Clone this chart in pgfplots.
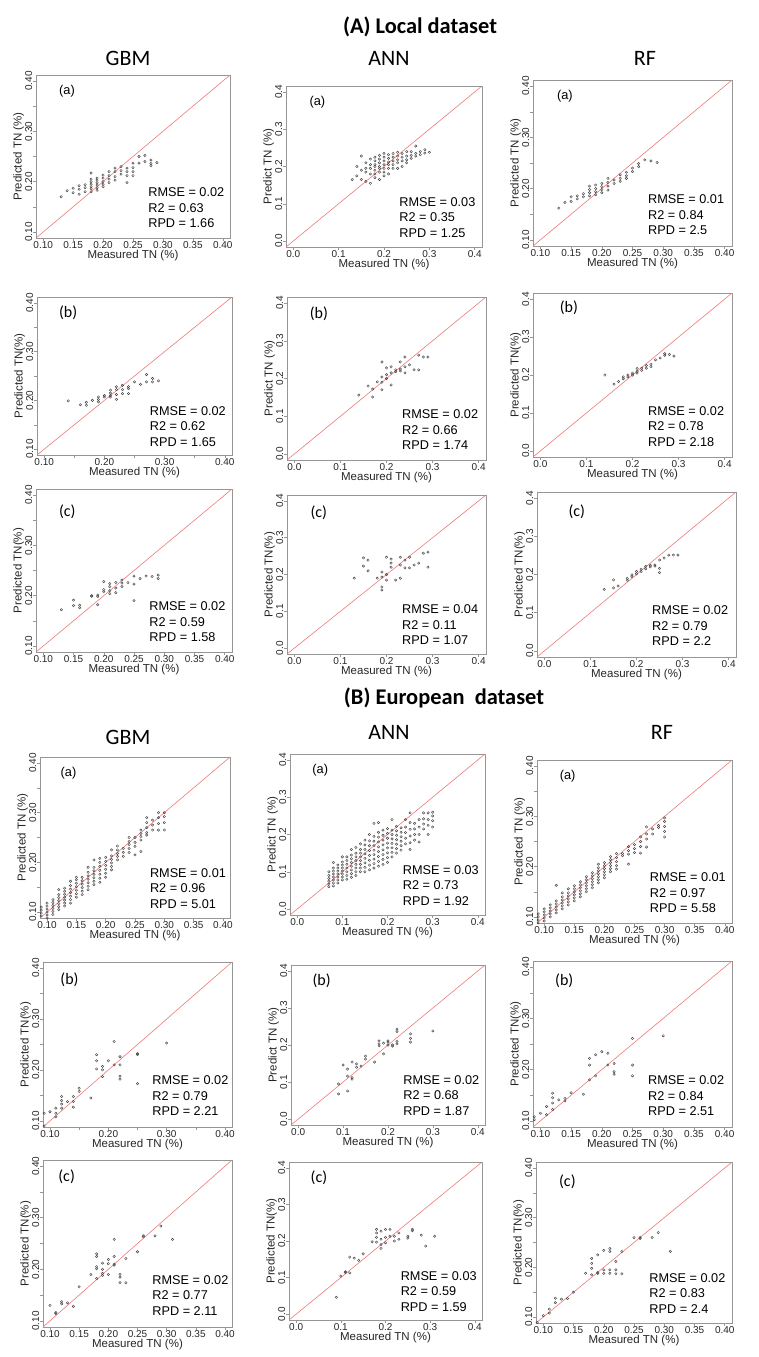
\documentclass[border=0pt]{standalone}
\usepackage{pgfplots}
\pgfplotsset{compat=1.18}
\usepackage{fontspec}
\setmainfont{Liberation Sans}
\newfontfamily\calib{Carlito}
\definecolor{axgray}{RGB}{150,150,150}
\definecolor{oneone}{RGB}{238,120,120}
\newcommand\tickfont{\fontsize{10}{12}\selectfont}
\newcommand\labfont{\fontsize{11.5}{13}\selectfont}
\newcommand\statfont{\fontsize{12.7}{15.5}\selectfont}
\newcommand\tagafont{\fontsize{12.8}{14}\selectfont}
\newcommand\tagcfont{\calib\fontsize{16}{18}\selectfont}
\newcommand\modfont{\calib\fontsize{22}{24}\selectfont}
\newcommand\secfont{\calib\bfseries\fontsize{22.4}{25}\selectfont}
\tikzset{
  statn/.style={anchor=north west, inner sep=0pt, align=left, font=\statfont},
  taga/.style={inner sep=0pt, font=\tagafont},
  tagc/.style={inner sep=0pt, font=\tagcfont},
}
\pgfplotsset{
  P/.style={scale only axis, anchor=south west,
    axis line style={draw=axgray, line width=0.6pt},
    every tick/.style={draw=axgray, line width=0.5pt},
    tick align=outside, tick pos=left, major tick length=3pt,
    ticklabel style={font=\tickfont, inner sep=0.5pt, text=black!85},
    yticklabel style={rotate=90, anchor=south},
    xticklabel style={anchor=north},
    label style={font=\labfont, inner sep=0.5pt, text=black!85},
    xlabel={Measured TN (\%)},
  },
  R1/.style={xmin=0.088, xmax=0.412, ymin=0.088, ymax=0.412,
    xtick={0.10,0.15,0.20,0.25,0.30,0.35,0.40},
    xticklabels={0.10,0.15,0.20,0.25,0.30,0.35,0.40},
    ytick={0.10,0.15,0.20,0.25,0.30,0.35,0.40},
    yticklabels={0.10,,0.20,,0.30,,0.40}},
  R1b/.style={R1, xticklabels={0.10,,0.20,,0.30,,0.40}},
  R0/.style={xmin=-0.016, xmax=0.416, ymin=-0.016, ymax=0.416,
    xtick={0,0.1,0.2,0.3,0.4}, xticklabels={0.0,0.1,0.2,0.3,0.4},
    ytick={0,0.1,0.2,0.3,0.4}, yticklabels={0.0,0.1,0.2,0.3,0.4}},
  pts/.style={only marks, mark=o, mark size=1.2pt,
    mark options={draw=black!72, line width=0.45pt}},
}
\newcommand\stats[3]{\node[statn] at (rel axis cs:0.578,0.31) {RMSE = #1\\R2 = #2\\RPD = #3};}
\newcommand\diag{\addplot[oneone, line width=0.6pt] coordinates {(-0.1,-0.1) (0.5,0.5)};}

\begin{document}
\begin{tikzpicture}
\path[use as bounding box] (0,0) rectangle (759pt,-1357pt);

% ---- titles ----
\node[font=\secfont] at (420pt,-27pt) {(A) Local dataset};
\node[font=\secfont] at (444pt,-698pt) {(B) European\ \ dataset};
\node[font=\modfont] at (128pt,-58pt) {GBM};
\node[font=\modfont] at (389pt,-58pt) {ANN};
\node[font=\modfont] at (645pt,-58pt) {RF};
\node[font=\modfont] at (128pt,-737pt) {GBM};
\node[font=\modfont] at (389pt,-732pt) {ANN};
\node[font=\modfont] at (662pt,-732pt) {RF};

% ================= (A) Local dataset =================
\begin{axis}[P,R1,at={(36pt,-238pt)},width=194pt,height=163pt,ylabel={Predicted TN (\%)}]
\diag
\addplot[pts] coordinates {(0.13,0.170)(0.14,0.182)(0.15,0.187)(0.15,0.178)(0.16,0.192)(0.16,0.185)(0.16,0.175)(0.17,0.194)(0.17,0.188)(0.17,0.180)(0.18,0.217)(0.18,0.205)(0.18,0.200)(0.18,0.195)(0.18,0.190)(0.18,0.186)(0.18,0.180)(0.19,0.207)(0.19,0.203)(0.19,0.198)(0.19,0.193)(0.19,0.188)(0.19,0.183)(0.20,0.213)(0.20,0.207)(0.20,0.200)(0.20,0.195)(0.20,0.190)(0.21,0.220)(0.21,0.212)(0.21,0.205)(0.21,0.198)(0.22,0.227)(0.22,0.220)(0.22,0.210)(0.22,0.203)(0.23,0.230)(0.23,0.222)(0.23,0.215)(0.24,0.227)(0.24,0.220)(0.24,0.212)(0.24,0.198)(0.25,0.237)(0.25,0.228)(0.25,0.220)(0.25,0.212)(0.26,0.250)(0.26,0.237)(0.27,0.252)(0.27,0.240)(0.28,0.243)(0.28,0.236)(0.28,0.232)(0.29,0.238)};
\node[taga] at (rel axis cs:0.16,0.9) {(a)};
\stats{0.02}{0.63}{1.66}
\end{axis}

\begin{axis}[P,R0,at={(286pt,-247pt)},width=196pt,height=161pt,ylabel={Predict TN (\%)}]
\diag
\addplot[pts] coordinates {(0.13,0.165)(0.14,0.200)(0.14,0.175)(0.15,0.228)(0.15,0.190)(0.15,0.165)(0.16,0.210)(0.16,0.195)(0.16,0.185)(0.16,0.160)(0.17,0.220)(0.17,0.205)(0.17,0.195)(0.17,0.180)(0.17,0.155)(0.18,0.225)(0.18,0.215)(0.18,0.205)(0.18,0.200)(0.18,0.190)(0.18,0.180)(0.18,0.170)(0.19,0.230)(0.19,0.220)(0.19,0.210)(0.19,0.200)(0.19,0.195)(0.19,0.185)(0.19,0.165)(0.20,0.235)(0.20,0.225)(0.20,0.215)(0.20,0.205)(0.20,0.195)(0.20,0.185)(0.20,0.175)(0.21,0.232)(0.21,0.222)(0.21,0.212)(0.21,0.205)(0.21,0.195)(0.21,0.180)(0.22,0.235)(0.22,0.225)(0.22,0.215)(0.22,0.205)(0.22,0.195)(0.23,0.238)(0.23,0.228)(0.23,0.218)(0.23,0.210)(0.23,0.195)(0.24,0.235)(0.24,0.225)(0.24,0.215)(0.24,0.200)(0.25,0.240)(0.25,0.228)(0.25,0.218)(0.25,0.210)(0.26,0.240)(0.26,0.230)(0.26,0.222)(0.27,0.255)(0.27,0.235)(0.27,0.228)(0.28,0.240)(0.28,0.232)(0.29,0.245)(0.29,0.236)(0.30,0.238)};
\node[taga] at (rel axis cs:0.16,0.9) {(a)};
\stats{0.03}{0.35}{1.25}
\end{axis}

\begin{axis}[P,R1,at={(533pt,-246pt)},width=199pt,height=166pt,ylabel={Predicted TN (\%)}]
\diag
\addplot[pts] coordinates {(0.13,0.162)(0.14,0.173)(0.15,0.184)(0.15,0.175)(0.16,0.186)(0.16,0.180)(0.17,0.190)(0.17,0.184)(0.18,0.205)(0.18,0.198)(0.18,0.192)(0.18,0.186)(0.19,0.207)(0.19,0.200)(0.19,0.194)(0.19,0.188)(0.20,0.210)(0.20,0.204)(0.20,0.198)(0.20,0.192)(0.21,0.220)(0.21,0.212)(0.21,0.205)(0.21,0.197)(0.22,0.217)(0.22,0.210)(0.23,0.227)(0.23,0.220)(0.23,0.214)(0.24,0.232)(0.24,0.225)(0.24,0.220)(0.25,0.240)(0.25,0.233)(0.26,0.249)(0.26,0.243)(0.27,0.256)(0.28,0.254)(0.29,0.251)};
\node[taga] at (rel axis cs:0.16,0.9) {(a)};
\stats{0.01}{0.84}{2.5}
\end{axis}

\begin{axis}[P,R1b,at={(37pt,-455pt)},width=195pt,height=158pt,ylabel={Predicted TN(\%)}]
\diag
\addplot[pts] coordinates {(0.14,0.199)(0.16,0.191)(0.17,0.196)(0.17,0.190)(0.18,0.200)(0.19,0.207)(0.19,0.202)(0.19,0.197)(0.20,0.210)(0.20,0.207)(0.21,0.221)(0.21,0.215)(0.21,0.210)(0.21,0.207)(0.22,0.228)(0.22,0.222)(0.22,0.212)(0.22,0.202)(0.23,0.231)(0.23,0.222)(0.23,0.214)(0.24,0.228)(0.24,0.224)(0.24,0.214)(0.25,0.238)(0.26,0.233)(0.27,0.253)(0.27,0.238)(0.28,0.245)(0.28,0.238)(0.29,0.240)};
\node[tagc] at (rel axis cs:0.16,0.9) {(b)};
\stats{0.02}{0.62}{1.65}
\end{axis}

\begin{axis}[P,R0,at={(287pt,-460pt)},width=199pt,height=163pt,ylabel={Predict TN (\%)}]
\diag
\addplot[pts] coordinates {(0.14,0.156)(0.16,0.180)(0.17,0.172)(0.17,0.151)(0.18,0.191)(0.19,0.244)(0.19,0.204)(0.19,0.190)(0.19,0.170)(0.20,0.228)(0.20,0.210)(0.20,0.200)(0.21,0.231)(0.21,0.215)(0.21,0.183)(0.22,0.223)(0.22,0.218)(0.23,0.244)(0.23,0.225)(0.23,0.220)(0.24,0.257)(0.24,0.231)(0.24,0.215)(0.25,0.236)(0.26,0.223)(0.27,0.262)(0.27,0.223)(0.28,0.257)(0.29,0.257)};
\node[tagc] at (rel axis cs:0.16,0.9) {(b)};
\stats{0.02}{0.66}{1.74}
\end{axis}

\begin{axis}[P,R0,at={(533pt,-457pt)},width=199pt,height=164pt,ylabel={Predicted TN(\%)}]
\diag
\addplot[pts] coordinates {(0.14,0.200)(0.16,0.176)(0.17,0.183)(0.18,0.195)(0.18,0.190)(0.19,0.200)(0.19,0.195)(0.20,0.205)(0.20,0.200)(0.21,0.217)(0.21,0.210)(0.21,0.205)(0.22,0.218)(0.22,0.212)(0.23,0.225)(0.23,0.218)(0.24,0.228)(0.24,0.222)(0.25,0.240)(0.26,0.245)(0.27,0.256)(0.27,0.252)(0.28,0.254)(0.29,0.250)};
\node[tagc] at (rel axis cs:0.18,0.91) {(b)};
\stats{0.02}{0.78}{2.18}
\end{axis}

\begin{axis}[P,R1,at={(36pt,-652pt)},width=196pt,height=163pt,ylabel={Predicted TN(\%)}]
\diag
\addplot[pts] coordinates {(0.13,0.172)(0.15,0.191)(0.15,0.180)(0.16,0.181)(0.16,0.176)(0.18,0.200)(0.18,0.199)(0.19,0.201)(0.19,0.198)(0.19,0.182)(0.20,0.228)(0.20,0.212)(0.20,0.208)(0.21,0.224)(0.21,0.218)(0.21,0.210)(0.21,0.204)(0.22,0.226)(0.22,0.215)(0.22,0.206)(0.23,0.231)(0.23,0.225)(0.23,0.218)(0.24,0.226)(0.25,0.239)(0.25,0.223)(0.25,0.190)(0.26,0.234)(0.27,0.239)(0.28,0.238)(0.29,0.241)(0.29,0.234)};
\node[tagc] at (rel axis cs:0.16,0.86) {(c)};
\stats{0.02}{0.59}{1.58}
\end{axis}

\begin{axis}[P,R0,at={(287pt,-654pt)},width=199pt,height=159pt,ylabel={Predicted TN(\%)}]
\diag
\addplot[pts] coordinates {(0.13,0.190)(0.15,0.245)(0.15,0.223)(0.16,0.239)(0.16,0.210)(0.18,0.190)(0.19,0.207)(0.19,0.193)(0.19,0.166)(0.19,0.158)(0.20,0.247)(0.20,0.200)(0.20,0.185)(0.21,0.242)(0.21,0.231)(0.21,0.220)(0.22,0.185)(0.23,0.247)(0.23,0.226)(0.23,0.190)(0.24,0.239)(0.24,0.218)(0.25,0.247)(0.25,0.218)(0.26,0.226)(0.27,0.231)(0.28,0.258)(0.29,0.261)(0.29,0.220)};
\node[tagc] at (rel axis cs:0.16,0.89) {(c)};
\stats{0.04}{0.11}{1.07}
\end{axis}

\begin{axis}[P,R0,at={(537pt,-657pt)},width=199pt,height=165pt,ylabel={Predicted TN(\%)}]
\diag
\addplot[pts] coordinates {(0.13,0.161)(0.15,0.186)(0.15,0.165)(0.16,0.170)(0.18,0.190)(0.18,0.185)(0.19,0.199)(0.19,0.194)(0.20,0.208)(0.20,0.202)(0.21,0.214)(0.21,0.208)(0.22,0.221)(0.22,0.215)(0.23,0.224)(0.23,0.220)(0.24,0.225)(0.24,0.222)(0.25,0.238)(0.25,0.216)(0.25,0.205)(0.26,0.243)(0.27,0.251)(0.28,0.251)(0.29,0.251)};
\node[tagc] at (rel axis cs:0.2,0.88) {(c)};
\stats{0.02}{0.79}{2.2}
\end{axis}

% ================= (B) European dataset =================
\begin{axis}[P,R1,at={(40pt,-918pt)},width=190pt,height=161pt,ylabel={Predicted TN (\%)}]
\diag
\addplot[pts] coordinates {
(0.09,0.085)(0.09,0.092)(0.09,0.098)(0.09,0.104)(0.09,0.110)
(0.10,0.088)(0.10,0.094)(0.10,0.100)(0.10,0.106)(0.10,0.112)(0.10,0.118)
(0.11,0.095)(0.11,0.101)(0.11,0.107)(0.11,0.113)(0.11,0.119)(0.11,0.125)
(0.12,0.105)(0.12,0.111)(0.12,0.117)(0.12,0.123)(0.12,0.129)(0.12,0.135)(0.12,0.145)
(0.13,0.112)(0.13,0.118)(0.13,0.124)(0.13,0.130)(0.13,0.136)(0.13,0.142)(0.13,0.148)
(0.14,0.118)(0.14,0.125)(0.14,0.132)(0.14,0.139)(0.14,0.146)(0.14,0.153)(0.14,0.162)
(0.15,0.130)(0.15,0.137)(0.15,0.144)(0.15,0.151)(0.15,0.158)(0.15,0.165)(0.15,0.170)
(0.16,0.135)(0.16,0.142)(0.16,0.149)(0.16,0.156)(0.16,0.163)(0.16,0.170)
(0.17,0.145)(0.17,0.152)(0.17,0.159)(0.17,0.166)(0.17,0.173)(0.17,0.180)(0.17,0.190)
(0.18,0.155)(0.18,0.162)(0.18,0.169)(0.18,0.176)(0.18,0.183)(0.18,0.190)(0.18,0.205)
(0.19,0.160)(0.19,0.168)(0.19,0.176)(0.19,0.184)(0.19,0.192)(0.19,0.200)(0.19,0.208)
(0.20,0.170)(0.20,0.178)(0.20,0.186)(0.20,0.194)(0.20,0.202)(0.20,0.210)
(0.21,0.185)(0.21,0.192)(0.21,0.199)(0.21,0.206)(0.21,0.213)(0.21,0.225)
(0.22,0.205)(0.22,0.212)(0.22,0.218)(0.22,0.225)(0.22,0.233)
(0.23,0.212)(0.23,0.220)(0.23,0.228)
(0.24,0.220)(0.24,0.228)(0.24,0.236)(0.24,0.242)(0.24,0.250)
(0.25,0.215)(0.25,0.232)(0.25,0.240)(0.25,0.250)
(0.26,0.222)(0.26,0.245)(0.26,0.252)(0.26,0.258)(0.26,0.265)
(0.27,0.255)(0.27,0.260)(0.27,0.270)(0.27,0.280)(0.27,0.290)
(0.28,0.265)(0.28,0.275)(0.28,0.285)
(0.29,0.265)(0.29,0.278)(0.29,0.290)(0.29,0.300)
(0.30,0.265)(0.30,0.280)(0.30,0.292)(0.30,0.300)};
\node[taga] at (rel axis cs:0.15,0.9) {(a)};
\stats{0.01}{0.96}{5.01}
\end{axis}

\begin{axis}[P,R0,at={(290pt,-915pt)},width=195pt,height=161pt,ylabel={Predict TN (\%)}]
\diag
\addplot[pts] coordinates {
(0.07,0.060)(0.07,0.067)(0.07,0.075)(0.07,0.082)(0.07,0.090)(0.07,0.100)
(0.08,0.062)(0.08,0.070)(0.08,0.078)(0.08,0.086)(0.08,0.094)(0.08,0.102)(0.08,0.110)(0.08,0.125)
(0.09,0.070)(0.09,0.078)(0.09,0.086)(0.09,0.094)(0.09,0.102)(0.09,0.110)(0.09,0.118)
(0.10,0.078)(0.10,0.086)(0.10,0.094)(0.10,0.102)(0.10,0.110)(0.10,0.118)(0.10,0.126)(0.10,0.140)
(0.11,0.080)(0.11,0.090)(0.11,0.100)(0.11,0.110)(0.11,0.120)(0.11,0.130)(0.11,0.140)
(0.12,0.085)(0.12,0.095)(0.12,0.105)(0.12,0.115)(0.12,0.125)(0.12,0.135)(0.12,0.145)(0.12,0.160)
(0.13,0.090)(0.13,0.100)(0.13,0.110)(0.13,0.120)(0.13,0.130)(0.13,0.140)(0.13,0.150)(0.13,0.165)
(0.14,0.100)(0.14,0.110)(0.14,0.120)(0.14,0.130)(0.14,0.140)(0.14,0.150)(0.14,0.160)(0.14,0.175)
(0.15,0.100)(0.15,0.112)(0.15,0.124)(0.15,0.136)(0.15,0.148)(0.15,0.160)(0.15,0.172)(0.15,0.185)
(0.16,0.105)(0.16,0.118)(0.16,0.131)(0.16,0.144)(0.16,0.157)(0.16,0.170)(0.16,0.183)(0.16,0.200)
(0.17,0.110)(0.17,0.122)(0.17,0.134)(0.17,0.146)(0.17,0.158)(0.17,0.170)(0.17,0.182)(0.17,0.195)(0.17,0.230)
(0.18,0.115)(0.18,0.128)(0.18,0.141)(0.18,0.154)(0.18,0.167)(0.18,0.180)(0.18,0.193)(0.18,0.206)(0.18,0.232)
(0.19,0.120)(0.19,0.133)(0.19,0.146)(0.19,0.159)(0.19,0.172)(0.19,0.185)(0.19,0.198)(0.19,0.212)
(0.20,0.125)(0.20,0.138)(0.20,0.151)(0.20,0.164)(0.20,0.177)(0.20,0.190)(0.20,0.203)(0.20,0.216)
(0.21,0.140)(0.21,0.152)(0.21,0.164)(0.21,0.176)(0.21,0.188)(0.21,0.200)(0.21,0.212)(0.21,0.240)
(0.22,0.150)(0.22,0.162)(0.22,0.174)(0.22,0.186)(0.22,0.198)(0.22,0.210)(0.22,0.222)
(0.23,0.158)(0.23,0.170)(0.23,0.182)(0.23,0.194)(0.23,0.206)(0.23,0.218)
(0.24,0.175)(0.24,0.190)(0.24,0.205)(0.24,0.220)(0.24,0.240)
(0.25,0.160)(0.25,0.178)(0.25,0.196)(0.25,0.214)(0.25,0.232)(0.25,0.258)
(0.26,0.185)(0.26,0.200)(0.26,0.215)(0.26,0.230)
(0.27,0.180)(0.27,0.200)(0.27,0.220)(0.27,0.240)
(0.28,0.215)(0.28,0.228)(0.28,0.242)(0.28,0.258)
(0.29,0.200)(0.29,0.225)(0.29,0.240)(0.29,0.258)
(0.30,0.220)(0.30,0.237)(0.30,0.250)(0.30,0.260)};
\node[taga] at (rel axis cs:0.155,0.9) {(a)};
\stats{0.03}{0.73}{1.92}
\end{axis}

\begin{axis}[P,R1,at={(537pt,-923pt)},width=195pt,height=163pt,ylabel={Predicted TN (\%)}]
\diag
\addplot[pts] coordinates {
(0.09,0.088)(0.09,0.094)(0.09,0.100)(0.09,0.106)
(0.10,0.092)(0.10,0.098)(0.10,0.104)(0.10,0.110)(0.10,0.116)
(0.11,0.100)(0.11,0.106)(0.11,0.112)(0.11,0.118)(0.11,0.124)
(0.12,0.108)(0.12,0.114)(0.12,0.120)(0.12,0.126)(0.12,0.132)(0.12,0.163)
(0.13,0.116)(0.13,0.122)(0.13,0.128)(0.13,0.134)(0.13,0.140)(0.13,0.148)
(0.14,0.124)(0.14,0.130)(0.14,0.136)(0.14,0.142)(0.14,0.148)(0.14,0.156)
(0.15,0.132)(0.15,0.138)(0.15,0.144)(0.15,0.150)(0.15,0.156)(0.15,0.162)
(0.16,0.140)(0.16,0.146)(0.16,0.152)(0.16,0.158)(0.16,0.164)(0.16,0.170)
(0.17,0.150)(0.17,0.156)(0.17,0.162)(0.17,0.168)(0.17,0.174)(0.17,0.180)
(0.18,0.158)(0.18,0.164)(0.18,0.170)(0.18,0.176)(0.18,0.182)(0.18,0.188)
(0.19,0.168)(0.19,0.174)(0.19,0.180)(0.19,0.186)(0.19,0.192)(0.19,0.198)(0.19,0.205)
(0.20,0.178)(0.20,0.184)(0.20,0.190)(0.20,0.196)(0.20,0.202)(0.20,0.208)
(0.21,0.190)(0.21,0.196)(0.21,0.202)(0.21,0.208)(0.21,0.214)(0.21,0.220)
(0.22,0.195)(0.22,0.202)(0.22,0.210)(0.22,0.218)(0.22,0.226)
(0.23,0.222)(0.23,0.226)
(0.24,0.205)(0.24,0.225)(0.24,0.232)(0.24,0.240)
(0.25,0.228)(0.25,0.236)(0.25,0.244)
(0.26,0.227)(0.26,0.240)(0.26,0.250)(0.26,0.259)
(0.27,0.239)(0.27,0.255)(0.27,0.265)(0.27,0.279)
(0.28,0.265)(0.28,0.275)
(0.29,0.278)(0.29,0.282)
(0.30,0.259)(0.30,0.270)(0.30,0.280)(0.30,0.290)(0.30,0.297)};
\node[taga] at (rel axis cs:0.157,0.9) {(a)};
\stats{0.01}{0.97}{5.58}
\end{axis}

\begin{axis}[P,R1b,at={(43pt,-1127pt)},width=189pt,height=165pt,ylabel={Predicted TN(\%)}]
\diag
\addplot[pts] coordinates {(0.09,0.115)(0.09,0.090)(0.10,0.118)(0.11,0.125)(0.11,0.115)(0.11,0.108)(0.12,0.148)(0.12,0.140)(0.12,0.133)(0.12,0.125)(0.13,0.138)(0.14,0.148)(0.14,0.138)(0.14,0.127)(0.15,0.164)(0.15,0.158)(0.17,0.145)(0.18,0.230)(0.18,0.218)(0.18,0.202)(0.19,0.207)(0.19,0.200)(0.19,0.187)(0.20,0.218)(0.21,0.256)(0.21,0.210)(0.22,0.226)(0.22,0.210)(0.22,0.188)(0.22,0.182)(0.25,0.232)(0.25,0.230)(0.25,0.173)(0.30,0.253)};
\node[tagc] at (rel axis cs:0.14,0.89) {(b)};
\stats{0.02}{0.79}{2.21}
\end{axis}

\begin{axis}[P,R0,at={(291pt,-1125pt)},width=194pt,height=160pt,ylabel={Predict TN (\%)}]
\diag
\addplot[pts] coordinates {(0.09,0.095)(0.09,0.068)(0.10,0.146)(0.11,0.135)(0.11,0.116)(0.11,0.076)(0.12,0.154)(0.12,0.108)(0.12,0.112)(0.13,0.149)(0.13,0.140)(0.14,0.143)(0.15,0.170)(0.15,0.162)(0.17,0.154)(0.18,0.203)(0.18,0.211)(0.18,0.198)(0.19,0.176)(0.19,0.205)(0.20,0.208)(0.20,0.211)(0.20,0.200)(0.21,0.197)(0.21,0.200)(0.22,0.243)(0.22,0.236)(0.22,0.210)(0.22,0.203)(0.25,0.230)(0.25,0.218)(0.25,0.208)(0.30,0.238)};
\node[tagc] at (rel axis cs:0.158,0.9) {(b)};
\stats{0.02}{0.68}{1.87}
\end{axis}

\begin{axis}[P,R1,at={(533pt,-1127pt)},width=199pt,height=166pt,ylabel={Predicted TN(\%)}]
\diag
\addplot[pts] coordinates {(0.09,0.108)(0.09,0.102)(0.10,0.115)(0.11,0.128)(0.11,0.112)(0.12,0.154)(0.12,0.145)(0.12,0.135)(0.12,0.122)(0.13,0.141)(0.14,0.144)(0.14,0.139)(0.15,0.155)(0.17,0.152)(0.18,0.222)(0.18,0.209)(0.18,0.180)(0.19,0.229)(0.19,0.188)(0.20,0.235)(0.21,0.232)(0.21,0.209)(0.22,0.212)(0.22,0.196)(0.22,0.191)(0.25,0.261)(0.25,0.209)(0.25,0.188)(0.30,0.266)};
\node[tagc] at (rel axis cs:0.157,0.88) {(b)};
\stats{0.02}{0.84}{2.51}
\end{axis}

\begin{axis}[P,R1,at={(43pt,-1327pt)},width=189pt,height=167pt,ylabel={Predicted TN(\%)}]
\diag
\addplot[pts] coordinates {(0.10,0.130)(0.11,0.116)(0.11,0.114)(0.12,0.137)(0.12,0.133)(0.13,0.135)(0.14,0.128)(0.15,0.166)(0.17,0.190)(0.18,0.230)(0.18,0.225)(0.18,0.205)(0.18,0.201)(0.18,0.182)(0.19,0.212)(0.19,0.200)(0.19,0.192)(0.19,0.188)(0.20,0.219)(0.20,0.211)(0.20,0.190)(0.21,0.258)(0.21,0.225)(0.21,0.210)(0.21,0.208)(0.22,0.190)(0.22,0.185)(0.22,0.174)(0.23,0.221)(0.23,0.174)(0.25,0.234)(0.26,0.265)(0.26,0.263)(0.28,0.265)(0.29,0.284)(0.31,0.258)};
\node[tagc] at (rel axis cs:0.125,0.9) {(c)};
\stats{0.02}{0.77}{2.11}
\end{axis}

\begin{axis}[P,R0,at={(289pt,-1320pt)},width=193pt,height=158pt,ylabel={Predicted TN(\%)}]
\diag
\addplot[pts] coordinates {(0.09,0.046)(0.10,0.104)(0.11,0.116)(0.11,0.114)(0.12,0.113)(0.12,0.156)(0.13,0.153)(0.14,0.147)(0.15,0.165)(0.17,0.198)(0.18,0.232)(0.18,0.222)(0.18,0.210)(0.18,0.197)(0.19,0.227)(0.19,0.205)(0.19,0.190)(0.19,0.180)(0.20,0.232)(0.20,0.210)(0.20,0.195)(0.21,0.213)(0.21,0.232)(0.22,0.213)(0.22,0.200)(0.23,0.222)(0.23,0.205)(0.25,0.213)(0.25,0.208)(0.26,0.232)(0.26,0.228)(0.28,0.216)(0.29,0.186)(0.31,0.213)};
\node[tagc] at (rel axis cs:0.155,0.9) {(c)};
\stats{0.03}{0.59}{1.59}
\end{axis}

\begin{axis}[P,R1,at={(536pt,-1323pt)},width=196pt,height=161pt,ylabel={Predicted TN(\%)}]
\diag
\addplot[pts] coordinates {(0.09,0.089)(0.10,0.103)(0.11,0.116)(0.11,0.108)(0.12,0.138)(0.12,0.129)(0.13,0.136)(0.14,0.137)(0.15,0.150)(0.17,0.188)(0.18,0.218)(0.18,0.208)(0.18,0.198)(0.18,0.185)(0.19,0.225)(0.19,0.188)(0.19,0.190)(0.20,0.234)(0.20,0.195)(0.20,0.188)(0.21,0.238)(0.21,0.232)(0.21,0.195)(0.21,0.188)(0.22,0.212)(0.22,0.195)(0.22,0.187)(0.23,0.232)(0.23,0.187)(0.25,0.260)(0.26,0.260)(0.26,0.258)(0.28,0.260)(0.29,0.270)(0.31,0.232)};
\node[tagc] at (rel axis cs:0.16,0.88) {(c)};
\stats{0.02}{0.83}{2.4}
\end{axis}
\end{tikzpicture}
\end{document}
